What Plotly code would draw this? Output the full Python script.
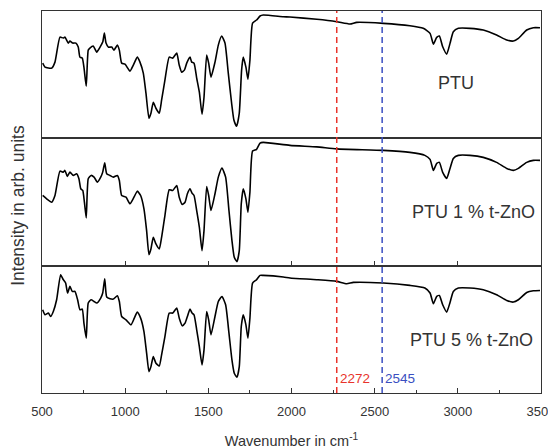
import plotly.graph_objects as go
from plotly.subplots import make_subplots

# Wavenumbers (cm^-1) and intensities (arb. units)
wn_ptu = [504, 518, 558, 578, 608, 628, 638, 658, 668, 684, 704, 718, 728, 742, 752, 766, 778, 788, 808, 829,
          849, 865, 875, 885, 899, 919, 933, 953, 965, 979, 999, 1029, 1049, 1073, 1089, 1109, 1125, 1143, 1155,
          1169, 1185, 1205, 1219, 1239, 1265, 1286, 1310, 1325, 1340, 1356, 1370, 1390, 1400, 1414, 1430, 1446,
          1462, 1474, 1490, 1502, 1516, 1540, 1560, 1580, 1600, 1620, 1640, 1654, 1670, 1686, 1700, 1710, 1726,
          1738, 1750, 1766, 1790, 1811, 1830, 1951, 1991, 2152, 2272, 2352, 2392, 2552, 2712, 2792, 2833, 2853,
          2873, 2889, 2909, 2933, 2953, 2973, 3003, 3073, 3153, 3233, 3294, 3334, 3364, 3414, 3454, 3494]
int_ptu = [75, 71, 70, 76, 101, 100, 101, 95, 97, 95, 95, 91, 81, 80, 71, 52, 88, 90, 92, 86,
           91, 96, 105, 95, 91, 91, 88, 93, 88, 75, 74, 67, 73, 81, 76, 65, 45, 20, 25,
           36, 30, 25, 38, 58, 81, 80, 85, 73, 66, 68, 75, 81, 76, 75, 60, 46,
           24, 41, 83, 75, 61, 76, 93, 102, 95, 65, 35, 18, 12, 25, 68, 81, 71,
           59, 78, 115, 118, 122, 123, 121.3, 121, 118.7, 116.3, 114, 115.7, 114.7, 112.3, 109.7, 104.7, 94,
           100.7, 102, 91.3, 84, 94.7, 106.3, 109.7, 109.7, 108, 103, 98, 97, 99.7, 108, 110.3, 110.3]

wn_1 = [504, 528, 558, 578, 608, 628, 638, 652, 668, 688, 708, 722, 733, 745, 755, 766, 778, 795, 813, 833,
        853, 865, 877, 889, 909, 929, 953, 965, 979, 1005, 1029, 1053, 1073, 1093, 1113, 1129, 1143, 1155,
        1169, 1185, 1205, 1219, 1239, 1265, 1286, 1310, 1325, 1343, 1360, 1374, 1390, 1402, 1414, 1430, 1446,
        1462, 1474, 1490, 1502, 1516, 1540, 1560, 1582, 1604, 1624, 1642, 1656, 1672, 1686, 1698, 1710, 1726,
        1738, 1750, 1766, 1790, 1811, 1830, 1991, 2152, 2272, 2552, 2712, 2802, 2833, 2853, 2873, 2889, 2909,
        2933, 2953, 2973, 3003, 3073, 3153, 3233, 3294, 3334, 3364, 3414, 3454, 3494]
int_1 = [70, 66.7, 63.3, 70, 94.3, 93.3, 95, 89, 93.3, 90, 91.7, 86.7, 76.7, 75, 63.3, 47.7, 86.7, 90, 88.3, 83.3,
         88.3, 93.3, 102.7, 91.7, 90, 88.3, 90, 85, 70, 68.3, 61.7, 68.3, 74.3, 70, 56.7, 35, 11, 16.7,
         28.3, 21.7, 16.7, 28.3, 50, 75.7, 75, 80, 68.3, 61, 63.3, 71.7, 76.7, 72.3, 70, 55, 38.3,
         15, 35, 79, 70, 55, 71.7, 88.3, 97.3, 88.3, 55, 25, 8.3, 4, 15, 61.7, 76.7, 66.7,
         53.3, 73.3, 114.3, 116, 122.3, 123, 120, 118.5, 116.5, 115, 113, 110, 106, 95, 102, 103, 93,
         87, 97, 107, 110, 110, 108, 103, 97, 95, 97, 103, 105, 105]

wn_5 = [504, 518, 538, 552, 568, 588, 612, 628, 642, 654, 668, 682, 698, 714, 728, 742, 752, 766, 778, 795,
        813, 829, 853, 865, 877, 889, 909, 929, 953, 965, 979, 1005, 1035, 1055, 1073, 1093, 1113, 1129, 1143,
        1155, 1169, 1185, 1205, 1219, 1239, 1265, 1286, 1310, 1325, 1343, 1360, 1374, 1390, 1402, 1414, 1430,
        1446, 1462, 1474, 1490, 1502, 1516, 1540, 1560, 1582, 1604, 1624, 1642, 1656, 1672, 1686, 1698, 1710,
        1726, 1738, 1750, 1766, 1790, 1811, 1830, 1951, 1991, 2152, 2272, 2332, 2372, 2552, 2712, 2802, 2833,
        2853, 2873, 2889, 2909, 2933, 2953, 2973, 3003, 3073, 3153, 3233, 3294, 3334, 3364, 3414, 3454, 3494]
int_5 = [83, 78, 79.7, 76.3, 81.3, 93, 118, 113, 109.7, 99.7, 106.3, 101.3, 101.3, 93, 83, 83.7, 69.7, 54.7, 89.7, 93,
         91.3, 89.7, 94.7, 99.7, 114, 95.7, 94, 93.7, 97, 91.3, 76.3, 73, 68, 74.7, 80.7, 74.7, 61.3, 39.7, 21.3,
         26.3, 36.3, 29.7, 27, 38, 56.3, 79.7, 79.7, 84.7, 74.7, 67, 69.7, 76.3, 83.7, 79.7, 78, 63,
         46.3, 28, 43, 81.3, 73, 58, 76.3, 91.3, 96.3, 88, 59.7, 33, 19.7, 15.7, 26.3, 66.3, 78,
         68, 54.7, 74.7, 109.7, 113, 117.3, 117.3, 115.7, 114.7, 113, 111.3, 109, 110.3, 109.7, 107.3, 104.7, 99.7,
         89, 96.3, 97.3, 88, 80.7, 90.3, 101.3, 104.7, 104.7, 103, 98, 92.3, 90.7, 93, 100.3, 102, 102.3]

series = [("PTU", wn_ptu, int_ptu), ("PTU 1 % t-ZnO", wn_1, int_1), ("PTU 5 % t-ZnO", wn_5, int_5)]
marker_lines = [(2272, "2272", "#e8332b"), (2545, "2545", "#3a4fc1")]
x_ticks = [500, 1000, 1500, 2000, 2500, 3000, 3500]

FONT = "Liberation Sans, Arial, sans-serif"
AX = "#333333"

fig = make_subplots(rows=3, cols=1, shared_xaxes=True, vertical_spacing=0)

for i, (name, wn, it) in enumerate(series, start=1):
    fig.add_trace(go.Scatter(x=wn, y=it, mode="lines", name=name,
                             line=dict(color="black", width=1.6, shape="spline", smoothing=0.5),
                             showlegend=False), row=i, col=1)
    fig.update_yaxes(range=[0, 127], showticklabels=False, ticks="", showgrid=False, zeroline=False,
                     showline=True, mirror=True, linecolor=AX, linewidth=1, automargin=False,
                     row=i, col=1)

fig.update_xaxes(range=[500, 3500], showgrid=False, zeroline=False, showline=True, mirror=True,
                 linecolor=AX, linewidth=1, automargin=False)
fig.update_xaxes(ticks="", showticklabels=False, row=1, col=1)
fig.update_xaxes(ticks="inside", ticklen=5, tickcolor=AX, tickvals=x_ticks, showticklabels=False, row=2, col=1)
fig.update_xaxes(ticks="inside", ticklen=5, tickcolor=AX, tickvals=x_ticks, showticklabels=True,
                 tickfont=dict(family=FONT, size=13, color=AX), ticklabelstandoff=6,
                 minor=dict(dtick=250, tick0=500, ticks="inside", ticklen=3, tickcolor=AX),
                 title=dict(text="Wavenumber in cm<sup>-1</sup>", font=dict(family=FONT, size=14.5, color=AX),
                            standoff=18),
                 row=3, col=1)

# dashed marker lines spanning all panels
for xv, lab, col in marker_lines:
    fig.add_shape(type="line", xref="x3", yref="paper", x0=xv, x1=xv, y0=0, y1=1,
                  line=dict(color=col, width=1.5, dash="6px,4px"))
    fig.add_annotation(x=xv, xref="x3", y=0.037, yref="paper", text=lab, showarrow=False,
                       xanchor="left", yanchor="middle", xshift=1,
                       font=dict(family=FONT, size=13.5, color=col))

# sample labels
fig.add_annotation(x=2986, xref="x", y=55, yref="y", text="PTU", showarrow=False,
                   font=dict(family=FONT, size=18, color=AX))
fig.add_annotation(x=3476, xref="x2", y=54, yref="y2", text="PTU 1 % t-ZnO", showarrow=False,
                   xanchor="right", font=dict(family=FONT, size=18, color=AX))
fig.add_annotation(x=3464, xref="x3", y=53, yref="y3", text="PTU 5 % t-ZnO", showarrow=False,
                   xanchor="right", font=dict(family=FONT, size=18, color=AX))

fig.add_annotation(x=0, xref="paper", y=0.49, yref="paper", text="Intensity in arb. units",
                   textangle=-90, showarrow=False, xanchor="right", xshift=-12,
                   font=dict(family=FONT, size=17.5, color=AX))

# the page adds an 8px body margin, so margins are reduced by 8px on the left/top
fig.update_layout(width=556, height=448, margin=dict(l=34, r=23, t=3, b=63),
                  paper_bgcolor="white", plot_bgcolor="white")

fig.write_html("out.html")
